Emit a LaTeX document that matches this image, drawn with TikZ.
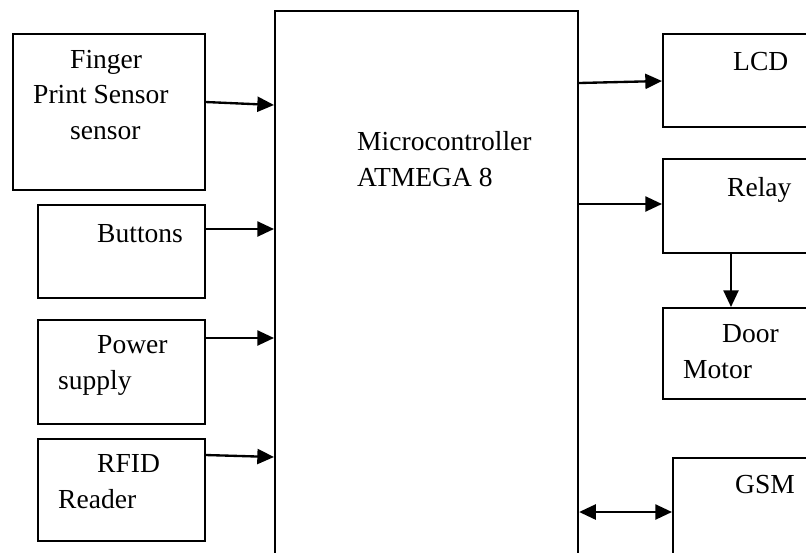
\documentclass[tikz,border=0pt]{standalone}
\usepackage{fontspec}
\setmainfont{Liberation Serif}
\usetikzlibrary{arrows.meta}
\usepackage{xcolor}

\tikzset{
  box/.style={draw, line width=1.3pt, rectangle, inner sep=0pt, anchor=north west},
  txt/.style={inner sep=0pt, align=left, anchor=base west, font=\fontsize{23.5}{29.9}\selectfont},
  arr/.style={line width=2pt, -{Triangle[length=0.5cm,width=0.45cm]}},
  dblarr/.style={line width=2pt, {Triangle[length=0.5cm,width=0.45cm]}-{Triangle[length=0.5cm,width=0.45cm]}}
}

\begin{document}
\begin{tikzpicture}[x=0.03cm, y=-0.03cm]
\useasboundingbox (0,0) rectangle (806,552);
\clip (0,0) rectangle (806,552);

%%%%%%%%%% Controller %%%%%%%%
{
\node[box, line width=1.8pt, minimum width=9.09cm, minimum height=18cm] (mcu) at (274,10) {};
\node[txt] (mcutxt) at (357,186) {Microcontroller\\ATMEGA 8};
}
%%%%%%%%%%%%     Inputs   %%%%%%%%%%%%
{
\node[box, minimum width=5.76cm, minimum height=4.68cm] (finger) at (12,33) {};
\node[txt] (fingertxt) at (33,139) {\hspace*{1.11cm}Finger\\Print Sensor\\\hspace*{1.11cm}sensor};

\node[box, minimum width=5.01cm, minimum height=2.79cm] (buttons) at (37,204) {};
\node[txt] (buttonstxt) at (97,242) {Buttons};

\node[box, minimum width=5.01cm, minimum height=3.12cm] (power) at (37,319) {};
\node[txt] (powertxt) at (58,389) {\hspace*{1.17cm}Power\\supply};

\node[box, minimum width=5.01cm, minimum height=3.06cm] (rfid) at (37,438) {};
\node[txt] (rfidtxt) at (58,508) {\hspace*{1.17cm}RFID\\Reader};
}
%%%%%%%%%%%%     Outputs   %%%%%%%%%%%%
{
\node[box, minimum width=6cm, minimum height=2.79cm] (lcd) at (662,33) {};
\node[txt] (lcdtxt) at (733,70) {LCD};

\node[box, minimum width=6cm, minimum height=2.82cm] (relay) at (662,158) {};
\node[txt] (relaytxt) at (727,196) {Relay};

\node[box, minimum width=6cm, minimum height=2.73cm] (door) at (662,307) {};
\node[txt] (doortxt) at (683,378) {\hspace*{1.17cm}Door\\Motor};

\node[box, minimum width=6cm, minimum height=6cm] (gsm) at (672,457) {};
\node[txt] (gsmtxt) at (735,493) {GSM};
}
%%%%%%%%%%%%     Arrows   %%%%%%%%%%%%
{
\draw[arr] (finger.east |- 0,102) -- (mcu.west |- 0,105);
\draw[arr] (buttons.east |- 0,229) -- (mcu.west |- 0,229);
\draw[arr] (power.east |- 0,338) -- (mcu.west |- 0,338);
\draw[arr] (rfid.east |- 0,455) -- (mcu.west |- 0,457);

\draw[arr] (mcu.east |- 0,83) -- (lcd.west |- 0,81);
\draw[arr] (mcu.east |- 0,204) -- (relay.west |- 0,204);
\draw[arr] (relay.south -| 731,0) -- (door.north -| 731,0);
\draw[dblarr] (mcu.east |- 0,512) -- (gsm.west |- 0,512);
}
\end{tikzpicture}
\end{document}
